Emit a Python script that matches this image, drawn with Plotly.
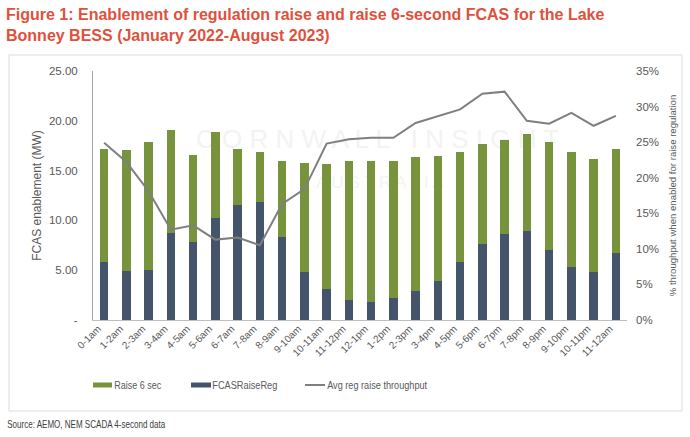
import plotly.graph_objects as go

# ---- data ----
hours = ["0-1am", "1-2am", "2-3am", "3-4am", "4-5am", "5-6am", "6-7am", "7-8am",
         "8-9am", "9-10am", "10-11am", "11-12pm", "12-1pm", "1-2pm", "2-3pm", "3-4pm",
         "4-5pm", "5-6pm", "6-7pm", "7-8pm", "8-9pm", "9-10pm", "10-11pm", "11-12am"]
fcas_raise_reg = [5.8, 4.9, 5.0, 8.7, 7.8, 10.2, 11.5, 11.8, 8.3, 4.8, 3.1, 2.0,
                  1.8, 2.2, 2.9, 3.9, 5.8, 7.6, 8.6, 8.9, 7.0, 5.3, 4.8, 6.7]
total_enablement = [17.2, 17.1, 17.9, 19.1, 16.6, 18.9, 17.2, 16.9, 16.0, 15.8, 15.7, 16.0,
                    16.0, 16.0, 16.4, 16.5, 16.9, 17.7, 18.1, 18.7, 17.9, 16.9, 16.2, 17.2]
raise_6_sec = [round(t - r, 2) for t, r in zip(total_enablement, fcas_raise_reg)]
avg_throughput = [24.9, 22.2, 18.1, 12.7, 13.3, 11.3, 11.6, 10.5, 16.3, 18.4, 24.8, 25.4,
                  25.6, 25.6, 27.7, 28.6, 29.6, 31.8, 32.1, 28.0, 27.6, 29.1, 27.3, 28.7]
avg_throughput_frac = [v / 100 for v in avg_throughput]

left_tickvals = [0, 5, 10, 15, 20, 25]
left_ticktext = ["-", "5.00", "10.00", "15.00", "20.00", "25.00"]
right_tickvals = [0, 0.05, 0.10, 0.15, 0.20, 0.25, 0.30, 0.35]
legend_names = ["Raise 6 sec", "FCASRaiseReg", "Avg reg raise throughput"]
source_text = "Source: AEMO, NEM SCADA 4-second data"

# ---- styling ----
W, H = 690, 437
ML, MR, MT, MB = 93, 63, 71, 117
PW, PH = W - ML - MR, H - MT - MB
GREEN = "#77933C"
SLATE = "#44546A"
LINE = "#7F7F7F"
TXT = "#595959"
FONT = "Liberation Sans, Arial, sans-serif"


def px_x(px):
    return (px - ML) / PW


def px_y(py):
    return (H - MB - py) / PH


fig = go.Figure()
fig.add_trace(go.Bar(x=hours, y=fcas_raise_reg, name=legend_names[1],
                     marker=dict(color=SLATE, line=dict(width=0))))
fig.add_trace(go.Bar(x=hours, y=raise_6_sec, name=legend_names[0],
                     marker=dict(color=GREEN, line=dict(width=0))))
fig.add_trace(go.Scatter(x=hours, y=avg_throughput_frac, name=legend_names[2],
                         mode="lines", yaxis="y2", line=dict(color=LINE, width=2)))

fig.update_layout(
    width=W, height=H,
    margin=dict(l=ML, r=MR, t=MT, b=MB, autoexpand=False),
    paper_bgcolor="white", plot_bgcolor="white",
    barmode="stack", bargap=0.62,
    font=dict(family=FONT, color=TXT, size=11),
    showlegend=False,
    xaxis=dict(type="category", showline=True, linecolor="#BFBFBF", linewidth=1,
               showgrid=False, ticks="", tickangle=-45, ticklabelshift=-6,
               ticklabelstandoff=-2,
               tickfont=dict(size=10, color=TXT)),
    yaxis=dict(range=[0, 25], tickvals=left_tickvals, ticktext=left_ticktext,
               showline=True, linecolor="#A6A6A6", linewidth=1, showgrid=False,
               zeroline=False, ticks="", ticklabelstandoff=12,
               tickfont=dict(size=11.5, color=TXT),
               title=dict(text="FCAS enablement (MW)", font=dict(size=12, color=TXT),
                          standoff=4)),
    yaxis2=dict(range=[0, 0.35], tickvals=right_tickvals, tickformat=".0%",
                overlaying="y", side="right", showline=False, showgrid=False,
                zeroline=False, ticks="", ticklabelstandoff=8,
                tickfont=dict(size=11.5, color=TXT),
                title=dict(text="% throughput when enabled for raise regulation",
                           font=dict(size=9.6, color=TXT), standoff=11)),
)

# chart frame
fig.add_shape(type="rect", xref="paper", yref="paper",
              x0=px_x(9), x1=px_x(682), y0=px_y(411), y1=px_y(55),
              line=dict(color="#DDDDDD", width=1), fillcolor="rgba(0,0,0,0)", layer="below")

# watermark (drawn below traces)
fig.add_shape(type="rect", xref="paper", yref="paper",
              x0=px_x(180), x1=px_x(575), y0=px_y(152), y1=px_y(122),
              line=dict(width=0), fillcolor="rgba(0,0,0,0)", layer="below",
              label=dict(text="C O R N W A L L   I N S I G H T",
                         font=dict(size=26, color="#F3F3F3", family=FONT)))
fig.add_shape(type="rect", xref="paper", yref="paper",
              x0=px_x(290), x1=px_x(470), y0=px_y(190), y1=px_y(170),
              line=dict(width=0), fillcolor="rgba(0,0,0,0)", layer="below",
              label=dict(text="A U S T R A L I A",
                         font=dict(size=17, color="#F3F3F3", family=FONT)))

# manual legend (wide flat swatches as in the original)
LEG_Y = 385
fig.add_shape(type="rect", xref="paper", yref="paper",
              x0=px_x(93), x1=px_x(112), y0=px_y(387.5), y1=px_y(382.5),
              line=dict(width=0), fillcolor=GREEN)
fig.add_shape(type="rect", xref="paper", yref="paper",
              x0=px_x(191), x1=px_x(211), y0=px_y(387.5), y1=px_y(382.5),
              line=dict(width=0), fillcolor=SLATE)
fig.add_shape(type="line", xref="paper", yref="paper",
              x0=px_x(305), x1=px_x(325), y0=px_y(LEG_Y), y1=px_y(LEG_Y),
              line=dict(color=LINE, width=2))
# narrow-font look: text is compressed to the original widths in the browser
legend_left = [114, 212, 327]
legend_width = [47, 65, 100]
for name, xl, w in zip(legend_names, legend_left, legend_width):
    fig.add_annotation(xref="paper", yref="paper", x=px_x(xl + w / 2), y=px_y(LEG_Y),
                       xanchor="center", yanchor="middle", showarrow=False,
                       text=name, font=dict(size=11, color=TXT, family=FONT))

# title
fig.add_annotation(xref="paper", yref="paper", x=px_x(4), y=px_y(4),
                   xanchor="left", yanchor="top", align="left", showarrow=False,
                   text="<b>Figure 1: Enablement of regulation raise and raise 6-second FCAS for the Lake<br>"
                        "Bonney BESS (January 2022-August 2023)</b>",
                   font=dict(size=16, color="#E0513D", family=FONT))
# source
SRC_LEFT, SRC_W = 7, 158
fig.add_annotation(xref="paper", yref="paper", x=px_x(SRC_LEFT + SRC_W / 2), y=px_y(424),
                   xanchor="center", yanchor="middle", showarrow=False,
                   text=source_text,
                   font=dict(size=11, color="#404040", family=FONT))

widths = {n: w for n, w in zip(legend_names, legend_width)}
widths[source_text] = SRC_W
js_widths = "{" + ",".join('"%s":%d' % (k, v) for k, v in widths.items()) + "}"
post = (
    "document.body.style.margin='0';document.body.style.overflow='hidden';"
    "var W=" + js_widths + ";"
    "document.querySelectorAll('text.annotation-text').forEach(function(t){"
    "var w=W[t.textContent];if(w){t.setAttribute('textLength',w);"
    "t.setAttribute('lengthAdjust','spacingAndGlyphs');}});"
)

fig.write_html("out.html", post_script=post, config={"displayModeBar": False})
